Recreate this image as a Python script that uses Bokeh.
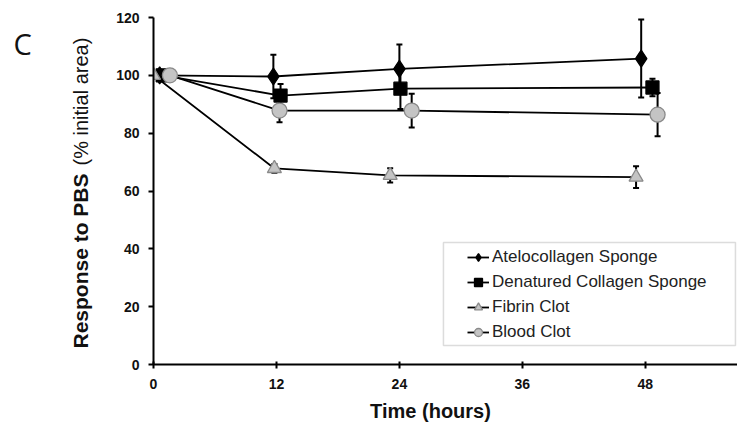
import numpy as np
from bokeh.plotting import figure
from bokeh.layouts import row, column
from bokeh.models import (ColumnDataSource, Whisker, TeeHead, Legend, LegendItem,
                          FixedTicker, Label, BoxAnnotation, Range1d)
from bokeh.embed import file_html
from bokeh.resources import INLINE

# ---- data ----
series_names = ["Atelocollagen Sponge", "Denatured Collagen Sponge", "Fibrin Clot", "Blood Clot"]

atelo_hours = [0.6, 11.7, 24.0, 47.6]
atelo_resp = [100.0, 99.6, 102.2, 105.8]
atelo_err = [0.0, 7.5, 8.5, 13.5]

denat_hours = [0.9, 12.4, 24.1, 48.7]
denat_resp = [100.0, 93.0, 95.4, 95.8]
denat_err = [0.0, 4.0, 7.0, 3.0]

fibrin_hours = [0.0, 11.8, 23.1, 47.1]
fibrin_resp = [100.0, 67.8, 65.4, 64.8]
fibrin_err = [0.0, 1.5, 2.5, 3.8]

blood_hours = [1.6, 12.3, 25.2, 49.2]
blood_resp = [100.0, 87.8, 87.8, 86.4]
blood_err = [0.0, 4.0, 5.8, 7.5]

x_ticks = [0, 12, 24, 36, 48]
y_ticks = [0, 20, 40, 60, 80, 100, 120]

FONT = "Liberation Sans"


def text_strip(w, h):
    f = figure(width=w, height=h, output_backend="svg", toolbar_location=None,
               x_range=Range1d(0, w), y_range=Range1d(0, h),
               x_axis_location=None, y_axis_location=None,
               min_border=0, min_border_left=0, min_border_right=0,
               min_border_top=0, min_border_bottom=0)
    f.outline_line_color = None
    f.xgrid.visible = False
    f.ygrid.visible = False
    return f


# ---- left strip: panel letter and two-style y title ----
side = text_strip(100, 423)
side.add_layout(Label(x=80, y=348, x_units="canvas", y_units="canvas",
                      text="Response to PBS", angle=np.pi / 2,
                      text_align="left", text_baseline="alphabetic", text_font=FONT,
                      text_font_style="bold", text_font_size="21px", text_color="#111111"))
side.add_layout(Label(x=80, y=165, x_units="canvas", y_units="canvas",
                      text="(% initial area)", angle=np.pi / 2,
                      text_align="left", text_baseline="alphabetic", text_font=FONT,
                      text_font_size="20px", text_color="#111111"))
side.add_layout(Label(x=13, y=43, x_units="canvas", y_units="canvas",
                      text="C", text_align="left",
                      text_baseline="alphabetic", text_font="Open Sans",
                      text_font_size="29px", text_color="#111111"))

# ---- bottom strip: x title ----
bottom = text_strip(637, 25)
bottom.add_layout(Label(x=330, y=12, x_units="canvas", y_units="canvas",
                        text="Time (hours)", text_align="center",
                        text_baseline="alphabetic", text_font=FONT,
                        text_font_style="bold", text_font_size="20px",
                        text_color="#111111"))

# ---- main chart ----
p = figure(width=637, height=398, output_backend="svg", toolbar_location=None,
           x_range=Range1d(0, 57), y_range=Range1d(0, 120),
           min_border_left=53, min_border_right=0, min_border_top=17,
           min_border_bottom=34)
p.outline_line_color = None
p.background_fill_color = "white"
p.border_fill_color = "white"

p.xgrid.visible = False
p.ygrid.ticker = FixedTicker(ticks=[120])
p.ygrid.grid_line_color = "#cfcfcf"
p.ygrid.grid_line_width = 2

for ax in (p.xaxis[0], p.yaxis[0]):
    ax.axis_line_color = "black"
    ax.axis_line_width = 2
    ax.major_tick_line_color = "black"
    ax.major_tick_line_width = 2
    ax.minor_tick_line_color = None
    ax.major_label_text_font = FONT
    ax.major_label_text_font_style = "bold"
    ax.major_label_text_font_size = "14px"
    ax.major_label_text_color = "#111111"

p.xaxis.ticker = FixedTicker(ticks=x_ticks)
p.yaxis.ticker = FixedTicker(ticks=y_ticks)
p.xaxis.major_tick_in = 3
p.xaxis.major_tick_out = 4
p.xaxis.major_label_standoff = 10
p.yaxis.major_tick_in = 0
p.yaxis.major_tick_out = 5
p.yaxis.major_label_standoff = 9

styles = [
    dict(marker="diamond", size=17, fill_color="black", line_color="black"),
    dict(marker="square", size=13, fill_color="black", line_color="black"),
    dict(marker="triangle", size=14, fill_color="#c4c4c4", line_color="#8a8a8a"),
    dict(marker="circle", size=15, fill_color="#c4c4c4", line_color="#8a8a8a"),
]
all_series = [
    (atelo_hours, atelo_resp, atelo_err),
    (denat_hours, denat_resp, denat_err),
    (fibrin_hours, fibrin_resp, fibrin_err),
    (blood_hours, blood_resp, blood_err),
]

items = []
for name, (hx, hy, he), st in zip(series_names, all_series, styles):
    hx = np.array(hx); hy = np.array(hy); he = np.array(he)
    m = he > 0
    esrc = ColumnDataSource(dict(x=hx[m], lo=hy[m] - he[m], hi=hy[m] + he[m]))
    w = Whisker(source=esrc, base="x", lower="lo", upper="hi", dimension="height",
                line_color="black", line_width=2, level="underlay",
                upper_head=TeeHead(size=6, line_width=2, line_color="black"),
                lower_head=TeeHead(size=6, line_width=2, line_color="black"))
    p.add_layout(w)
    src = ColumnDataSource(dict(x=hx, y=hy))
    lr = p.line("x", "y", source=src, line_color="black", line_width=1.8)
    sr = p.scatter("x", "y", source=src, marker=st["marker"], size=st["size"],
                   fill_color=st["fill_color"], line_color=st["line_color"],
                   line_width=1.3)
    items.append(LegendItem(label=name, renderers=[lr, sr]))

legend = Legend(items=items, location=(311, 19), orientation="vertical",
                padding=3, spacing=5, margin=0, glyph_width=22, glyph_height=20,
                label_height=20, label_standoff=3,
                label_text_font=FONT, label_text_font_size="17px",
                label_text_color="#222222", border_line_alpha=0,
                background_fill_alpha=0)
p.add_layout(legend, "center")

box = BoxAnnotation(left=28.3, right=56.8, bottom=6.6, top=42.2,
                    fill_alpha=0, line_color="#8c8c8c", line_width=1.5)
p.add_layout(box)

layout = row(side, column(p, bottom, spacing=0), spacing=0)
open("out.html", "w").write(file_html(layout, INLINE))
